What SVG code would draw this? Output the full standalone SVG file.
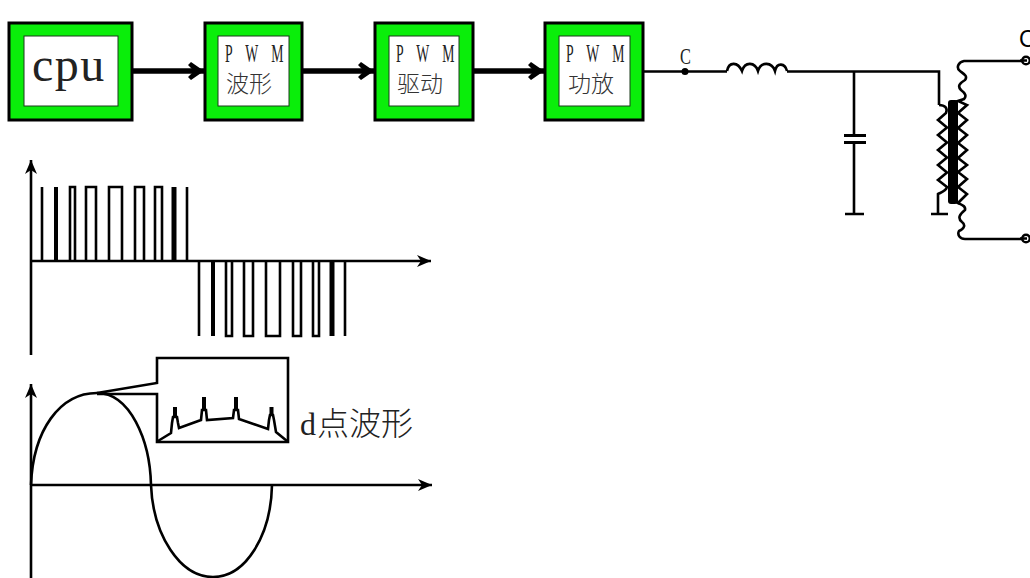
<svg xmlns="http://www.w3.org/2000/svg" width="1030" height="578" viewBox="0 0 1030 578">
<style>
.box{fill:#0aee0a;stroke:#000;stroke-width:3}
.inner{fill:#fff;stroke:#1a3a1a;stroke-width:1}
.w{fill:none;stroke:#000;stroke-width:5.500}
.t{fill:none;stroke:#000;stroke-width:2.600}
.pwm{font-family:"Liberation Serif",serif;font-size:25px;fill:#222;word-spacing:18px}
.cjk{font-family:"Noto Sans CJK SC",sans-serif;font-size:23px;fill:#333;font-weight:300}
.ser{font-family:"Liberation Serif","Noto Sans CJK SC",serif;fill:#222}
</style>
<defs>
<marker id="ah" markerUnits="userSpaceOnUse" markerWidth="17" markerHeight="20" refX="16" refY="10" orient="auto"><path d="M3 1L16 10L3 19L0 16L6 10L0 4Z" fill="#000"/></marker>
<marker id="as" markerUnits="userSpaceOnUse" markerWidth="15" markerHeight="12" refX="14" refY="6" orient="auto"><path d="M0 0L14 6L0 12L4 6Z" fill="#000"/></marker>
</defs>
<rect width="1030" height="578" fill="#fff"/>
<g id="connectors">
<path d="M132 71H204" class="w" marker-end="url(#ah)"/>
<path d="M302 71H374" class="w" marker-end="url(#ah)"/>
<path d="M474 71H544" class="w" marker-end="url(#ah)"/>
<path d="M644 71.500H727M787 71.500H939V105" class="t"/>
<circle cx="685" cy="71.500" r="3.500" fill="#000"/>
</g>
<g id="node-cpu"><rect x="9" y="23" width="123" height="97" class="box"/><rect x="24" y="36" width="94" height="70" class="inner"/><text x="32" y="81" class="ser" font-size="48" letter-spacing="1.500">cpu</text></g>
<g id="node-pwm1"><rect x="205" y="23" width="97" height="97" class="box"/><rect x="218" y="36" width="71" height="70" class="inner"/><text class="pwm" transform="translate(225,62) scale(.55,1)">P W M</text><text x="226" y="92" class="cjk">波形</text></g>
<g id="node-pwm2"><rect x="375" y="23" width="98" height="97" class="box"/><rect x="389" y="36" width="70" height="70" class="inner"/><text class="pwm" transform="translate(396,62) scale(.55,1)">P W M</text><text x="397" y="92" class="cjk">驱动</text></g>
<g id="node-pwm3"><rect x="545" y="23" width="98" height="97" class="box"/><rect x="559" y="36" width="71" height="70" class="inner"/><text class="pwm" transform="translate(566,62) scale(.55,1)">P W M</text><text x="568" y="92" class="cjk">功放</text></g>
<text id="label-c" class="ser" font-size="24" transform="translate(680,64) scale(.68,1)">C</text>
<g id="inductor"><path d="M727 71C729 61 738 62 742 71C745 61 755 62 758 71C761 61 772 62 775 71C777 62 785 63 787 71" class="t"/></g>
<g id="capacitor"><path d="M854 71V135M854 142V214M845 214H864" class="t"/><path d="M844 135.500H866M844 142.500H866" fill="none" stroke="#000" stroke-width="3"/></g>
<g id="transformer">
<rect x="948" y="100" width="10" height="104" rx="3" fill="#000"/>
<path d="M939 105C945 105 948 108 946 113L938 120L947 127.500L938 135L947 142.500L938 150L947 157.500L938 165L947 172.500L938 180L947 187C946 191 942 192 938 194V214M931 214H948" class="t"/>
<path d="M1022 61H964C958 62 956 68 960 71C964 74 968 76 965 80C960 83 957 86 961 90C965 93 967 96 964 99L958 101L967 105L958 113L967 120L958 128L967 135L958 143L967 150L958 158L967 165L958 172L967 179L958 187L967 194L958 203C962 205 966 206 965 210C960 214 957 218 962 222C966 225 964 229 959 231C957 235 960 239 965 239H1022" class="t"/>
<circle cx="1026" cy="60.500" r="3.800" fill="#fff" stroke="#000" stroke-width="2.500"/>
<circle cx="1026" cy="238.500" r="3.800" fill="#fff" stroke="#000" stroke-width="2.500"/>
<path d="M1020 60.500H1027M1020 238.500H1027" class="t"/>
</g>
<text id="label-out" x="1019" y="47" font-family="Liberation Sans,sans-serif" font-size="23" fill="#000">C</text>
<g id="waveform-pwm">
<path d="M31 355V160" class="t" marker-end="url(#as)"/>
<path d="M31 261H431" class="t" marker-end="url(#as)"/>
<path d="M42 261V187M187 261V187M70 261V187H75V261M86 261V187H96V261M109 261V187H122V261M135 261V187H144V261M155 261V187H162V261" class="t"/>
<path d="M56 261V187" fill="none" stroke="#000" stroke-width="4"/>
<path d="M174 261V187" fill="none" stroke="#000" stroke-width="5"/>
<path d="M199 261V336M345 261V336M226 261V336H232V261M244 261V336H253V261M266 261V336H280V261M293 261V336H301V261M313 261V336H319V261" class="t"/>
<path d="M213 261V336" fill="none" stroke="#000" stroke-width="4"/>
<path d="M332 261V336" fill="none" stroke="#000" stroke-width="5"/>
</g>
<g id="waveform-sine">
<path d="M31 578V384" class="t" marker-end="url(#as)"/>
<path d="M31 485H432" class="t" marker-end="url(#as)"/>
<path d="M31 485C33 430 60 393 97 393C130 393 150 440 151 485C153 535 180 577 213 577C246 577 271 535 272 485" class="t"/>
<path d="M97 393L157 383V358H288V442H157V394H97" class="t"/>
<path d="M158 441L171 433L172 423L173 417H177L178 423L179 428L201 420L202 410H206L207 420L233 418L234 410H238L239 419L268 429L269 420L270 415H273L274 420L276 432L287 441" class="t"/>
<path d="M175 418V407M204 410V397M236 410V397M271.500 416V407" fill="none" stroke="#000" stroke-width="4"/>
</g>
<text id="label-d" x="300" y="435" class="ser" font-size="32">d<tspan font-family="Noto Sans CJK SC,sans-serif" font-weight="300" dx="1">点波形</tspan></text>
</svg>
